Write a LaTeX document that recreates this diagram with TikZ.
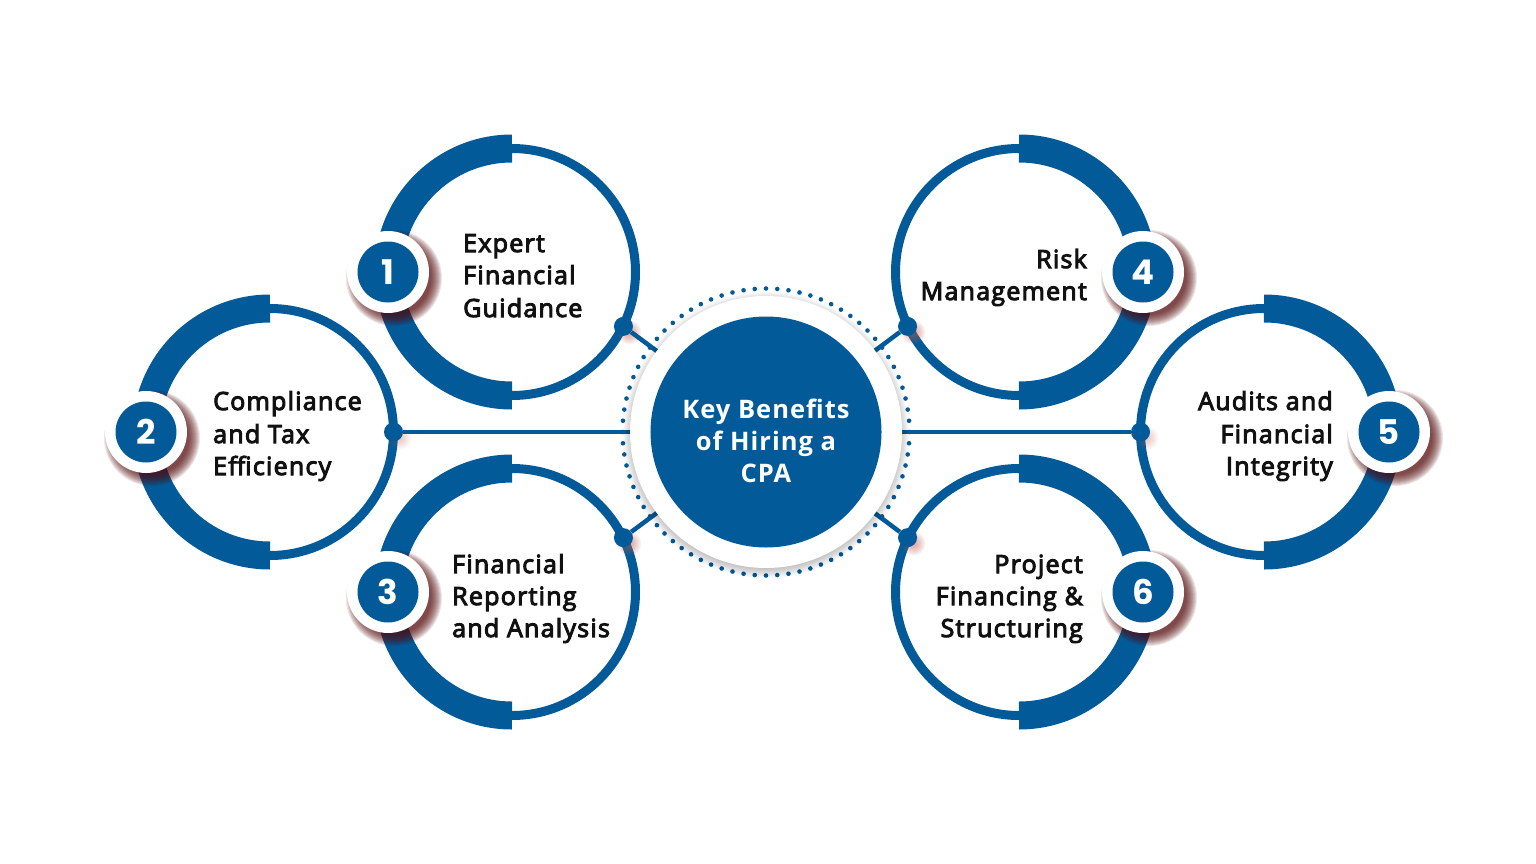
\documentclass[tikz,border=0pt]{standalone}
\usepackage{fontspec}
\usetikzlibrary{calc}
\newfontfamily\bodyfont{Open Sans}[FakeBold=4,LetterSpace=5]
\newfontfamily\ctrfont{Open Sans}[LetterSpace=4]
\newfontfamily\numfont{Poppins}
\definecolor{cpablue}{RGB}{3,90,152}
\definecolor{shadred}{RGB}{85,10,10}
\definecolor{glowred}{RGB}{200,90,80}
\definecolor{txtblack}{RGB}{17,17,17}
\newcommand\softblob[5]{%
  \foreach \k in {0,...,#3} {\fill[#4, opacity=#5] #1 circle ({#2+\k});}}
\begin{document}
\begin{tikzpicture}[x=1pt,y=-1pt,
  thinring/.style={draw=cpablue, line width=9pt},
  band/.style={draw=cpablue, line width=28pt, line cap=butt},
  hub/.style={circle, fill=cpablue, inner sep=0pt, minimum size=19pt},
  link/.style={draw=cpablue, line width=4.5pt},
  badge/.style={circle, fill=white, inner sep=0pt, minimum size=82pt},
  num/.style={circle, fill=cpablue, inner sep=0pt, minimum size=61pt, text=white,
    font=\numfont\bfseries\fontsize{34}{34}\selectfont},
  txt/.style={inner sep=0pt, text=txtblack, font=\bodyfont\fontsize{25}{30}\selectfont},
  ctr/.style={inner sep=0pt, text=white, font=\ctrfont\bfseries\fontsize{25.5}{30}\selectfont}]
\useasboundingbox (0,0) rectangle (1536,864);
\fill[white] (0,0) rectangle (1536,864);

\coordinate (C) at (766,432);
\coordinate (P1) at (512,272);
\coordinate (P2) at (270,432);
\coordinate (P3) at (512,592);
\coordinate (P4) at (1019,272);
\coordinate (P5) at (1264,432);
\coordinate (P6) at (1019,592);

% dotted ring
\foreach \a in {0,4.5,...,355.5} {\fill[cpablue] ($(C)+(\a:143.5)$) circle (2.3);}

% rings and bands
\foreach \p in {P1,P2,P3} {
  \draw[thinring] (\p) circle (123.5);
  \draw[band] ($(\p)+(90:123.5)$) arc[start angle=90, end angle=270, radius=123.5];
}
\foreach \p in {P4,P5,P6} {
  \draw[thinring] (\p) circle (123.5);
  \draw[band] ($(\p)+(90:123.5)$) arc[start angle=90, end angle=-90, radius=123.5];
}

% hub glows
\softblob{($(P1)+(26:124)+(6,6)$)}{3}{9}{glowred}{0.06}
\softblob{($(P2)+(0:123.5)+(6,6)$)}{3}{9}{glowred}{0.03}
\softblob{($(P3)+(-26:124)+(6,6)$)}{3}{9}{glowred}{0.06}
\softblob{($(P4)+(154:124)+(6,6)$)}{3}{9}{glowred}{0.06}
\softblob{($(P5)+(180:123.5)+(6,6)$)}{3}{9}{glowred}{0.03}
\softblob{($(P6)+(206:124)+(6,6)$)}{3}{9}{glowred}{0.06}

% hubs
\node[hub] (d1) at ($(P1)+(26:124)$) {};
\node[hub] (d2) at ($(P2)+(0:123.5)$) {};
\node[hub] (d3) at ($(P3)+(-26:124)$) {};
\node[hub] (d4) at ($(P4)+(154:124)$) {};
\node[hub] (d5) at ($(P5)+(180:123.5)$) {};
\node[hub] (d6) at ($(P6)+(206:124)$) {};

% connectors
\foreach \d in {d1,d2,d3,d4,d5,d6} {\draw[link] (\d) -- (C);}

% central disc
\softblob{($(C)+(0,3)$)}{134}{9}{black}{0.025}
\node[circle, fill=white, inner sep=0pt, minimum size=272pt] (disc) at (C) {};
\node[circle, fill=cpablue, inner sep=0pt, minimum size=231pt] (cpa) at (C) {};
\node[ctr, anchor=base] (k1) at (766,418) {Key Benefits};
\node[ctr, anchor=base] (k2) at (766,450) {of Hiring a};
\node[ctr, anchor=base] (k3) at (766,482) {CPA};

% badges
\softblob{($(P1)+(-124,0)+(6,6)$)}{37}{11}{shadred}{0.1}
\softblob{($(P2)+(-124,0)+(6,6)$)}{37}{11}{shadred}{0.1}
\softblob{($(P3)+(-124,0)+(6,6)$)}{37}{11}{shadred}{0.1}
\softblob{($(P4)+(124,0)+(6,6)$)}{37}{11}{shadred}{0.1}
\softblob{($(P5)+(125,0)+(6,6)$)}{37}{11}{shadred}{0.1}
\softblob{($(P6)+(124,0)+(6,6)$)}{37}{11}{shadred}{0.1}
\node[badge] (b1) at ($(P1)+(-124,0)$) {};
\node[badge] (b2) at ($(P2)+(-124,0)$) {};
\node[badge] (b3) at ($(P3)+(-124,0)$) {};
\node[badge] (b4) at ($(P4)+(124,0)$) {};
\node[badge] (b5) at ($(P5)+(125,0)$) {};
\node[badge] (b6) at ($(P6)+(124,0)$) {};
\node[num] (n1) at (b1) {1};
\node[num] (n2) at (b2) {2};
\node[num] (n3) at (b3) {3};
\node[num] (n4) at (b4) {4};
\node[num] (n5) at (b5) {5};
\node[num] (n6) at (b6) {6};

% texts
\node[txt, anchor=base west] (t1a) at (463,252) {Expert};
\node[txt, anchor=base west] (t1b) at (463,284) {Financial};
\node[txt, anchor=base west] (t1c) at (463,317) {Guidance};
\node[txt, anchor=base west] (t2a) at (213,410) {Compliance};
\node[txt, anchor=base west] (t2b) at (213,443) {and Tax};
\node[txt, anchor=base west] (t2c) at (213,475) {Efficiency};
\node[txt, anchor=base west] (t3a) at (452,573) {Financial};
\node[txt, anchor=base west] (t3b) at (452,605) {Reporting};
\node[txt, anchor=base west] (t3c) at (452,637) {and Analysis};
\node[txt, anchor=base east] (t4a) at (1087,268) {Risk};
\node[txt, anchor=base east] (t4b) at (1087,300) {Management};
\node[txt, anchor=base east] (t5a) at (1333,410) {Audits and};
\node[txt, anchor=base east] (t5b) at (1333,443) {Financial};
\node[txt, anchor=base east] (t5c) at (1333,475) {Integrity};
\node[txt, anchor=base east] (t6a) at (1083,573) {Project};
\node[txt, anchor=base east] (t6b) at (1083,605) {Financing \&};
\node[txt, anchor=base east] (t6c) at (1083,637) {Structuring};
\end{tikzpicture}
\end{document}
